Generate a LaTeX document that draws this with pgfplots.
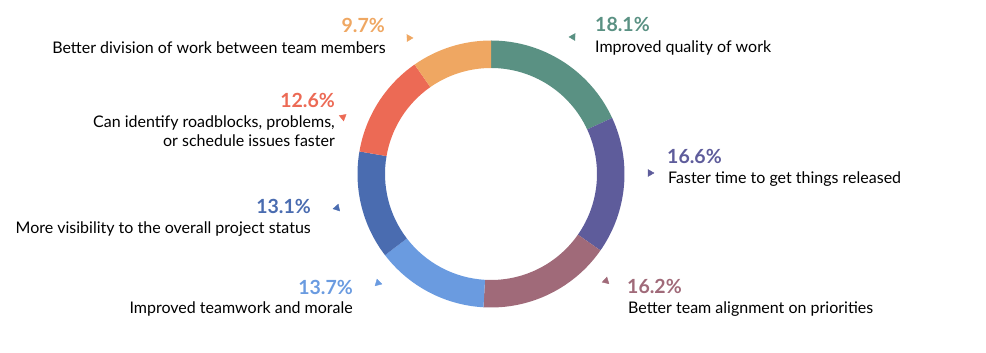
\documentclass[border=0pt]{standalone}
\usepackage{fontspec}
\setmainfont{Lato}
\usepackage{pgfplots}
\usepackage{pgfplotstable}
\pgfplotsset{compat=1.18}
\definecolor{cT}{HTML}{5A9183}
\definecolor{cP}{HTML}{5E5C9B}
\definecolor{cM}{HTML}{A06A79}
\definecolor{cL}{HTML}{6A9BE0}
\definecolor{cB}{HTML}{4A6CB0}
\definecolor{cR}{HTML}{EC6A55}
\definecolor{cO}{HTML}{EFA762}
\pgfplotstableread{
pct col
18.1 cT
16.6 cP
16.2 cM
13.7 cL
13.1 cB
12.6 cR
9.7 cO
}\shares
\newcommand{\pfont}{\fontsize{19.5}{22}\selectfont\bfseries}
\newcommand{\tfont}{\fontsize{16}{18}\selectfont}
\begin{document}
\begin{tikzpicture}
\begin{axis}[scale only axis, width=986pt, height=353pt,
  xmin=0, xmax=986, ymin=0, ymax=353, hide axis, clip=false]
\path (axis cs:0,0) rectangle (axis cs:986,353);
\def\cum{0}
\pgfplotsforeachungrouped \i in {0,...,6}{%
  \pgfplotstablegetelem{\i}{pct}\of\shares \let\p=\pgfplotsretval
  \pgfplotstablegetelem{\i}{col}\of\shares \let\c=\pgfplotsretval
  \pgfmathsetmacro\aone{90-3.6*\cum}%
  \pgfmathsetmacro\cum{\cum+\p}%
  \pgfmathsetmacro\atwo{90-3.6*\cum}%
  \edef\temp{\noexpand\fill[\c] ([shift={(\aone:133.5pt)}]axis cs:491,179) arc[start angle=\aone, end angle=\atwo, radius=133.5pt] -- ([shift={(\atwo:106pt)}]axis cs:491,179) arc[start angle=\atwo, end angle=\aone, radius=106pt] -- cycle;}%
  \temp
}
% markers
\addplot[only marks, mark=triangle*, mark size=4pt, color=cO, mark options={rotate=31}] coordinates {(409,315)};
\addplot[only marks, mark=triangle*, mark size=4pt, color=cT, mark options={rotate=-31}] coordinates {(573,316)};
\addplot[only marks, mark=triangle*, mark size=4pt, color=cP, mark options={rotate=-90}] coordinates {(650,180)};
\addplot[only marks, mark=triangle*, mark size=4pt, color=cM, mark options={rotate=-133}] coordinates {(606,72)};
\addplot[only marks, mark=triangle*, mark size=4pt, color=cL, mark options={rotate=134}] coordinates {(378,70)};
\addplot[only marks, mark=triangle*, mark size=4pt, color=cB, mark options={rotate=102}] coordinates {(337,145)};
\addplot[only marks, mark=triangle*, mark size=4pt, color=cR, mark options={rotate=69}] coordinates {(343,236)};
% labels
\node[anchor=base east, text=cO, font=\pfont, inner sep=0pt] at (axis cs:385,320) {9.7\%};
\node[anchor=base east, font=\tfont, inner sep=0pt] at (axis cs:386,299) {Better division of work between team members};
\node[anchor=base west, text=cT, font=\pfont, inner sep=0pt] at (axis cs:595,321) {18.1\%};
\node[anchor=base west, font=\tfont, inner sep=0pt] at (axis cs:595,300) {Improved quality of work};
\node[anchor=base west, text=cP, font=\pfont, inner sep=0pt] at (axis cs:667,189) {16.6\%};
\node[anchor=base west, font=\tfont, inner sep=0pt] at (axis cs:668,169) {Faster time to get things released};
\node[anchor=base west, text=cM, font=\pfont, inner sep=0pt] at (axis cs:627,59) {16.2\%};
\node[anchor=base west, font=\tfont, inner sep=0pt] at (axis cs:628,39) {Better team alignment on priorities};
\node[anchor=base east, text=cB, font=\pfont, inner sep=0pt] at (axis cs:311,139) {13.1\%};
\node[anchor=base east, font=\tfont, inner sep=0pt] at (axis cs:311,119) {More visibility to the overall project status};
\node[anchor=base east, text=cL, font=\pfont, inner sep=0pt] at (axis cs:353,58) {13.7\%};
\node[anchor=base east, font=\tfont, inner sep=0pt] at (axis cs:353,39) {Improved teamwork and morale};
\node[anchor=base east, text=cR, font=\pfont, inner sep=0pt] at (axis cs:335,245) {12.6\%};
\node[anchor=base east, font=\tfont, inner sep=0pt] at (axis cs:335,225) {Can identify roadblocks, problems,};
\node[anchor=base east, font=\tfont, inner sep=0pt] at (axis cs:335,206) {or schedule issues faster};
\end{axis}
\end{tikzpicture}
\end{document}
